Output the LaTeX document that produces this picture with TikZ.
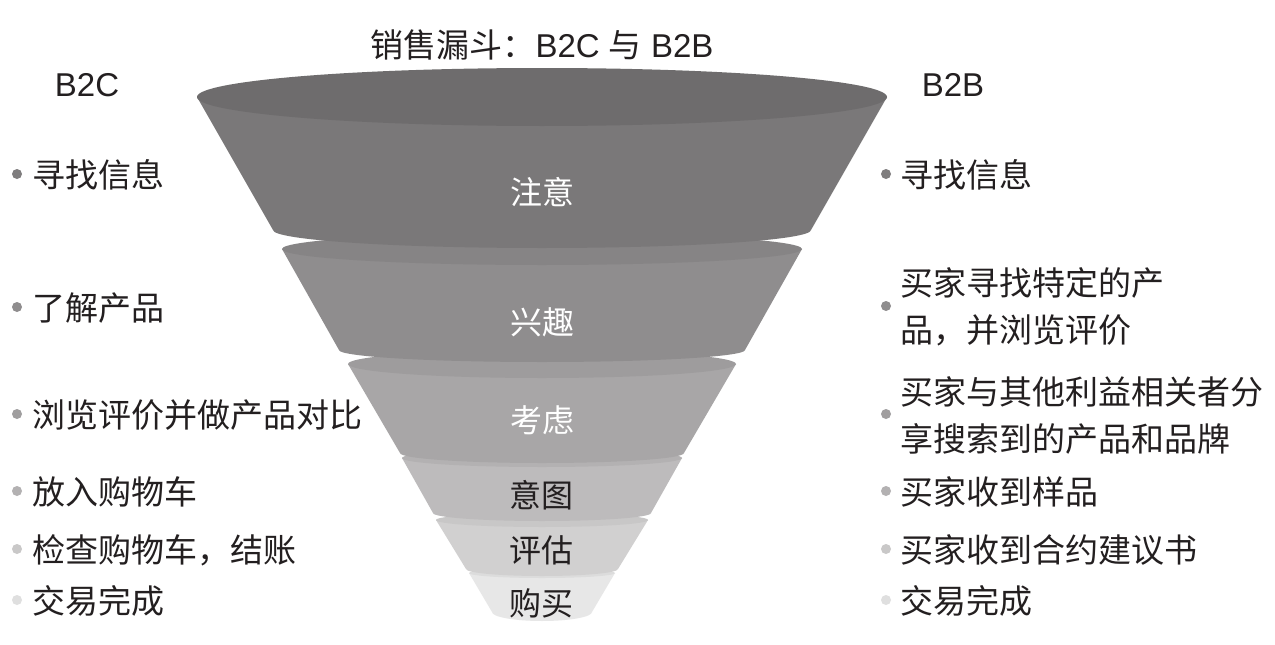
\documentclass[tikz,border=0pt]{standalone}
\usepackage{fontspec}
\setmainfont{Noto Sans CJK SC}
\newfontfamily\latin{Liberation Sans}
\definecolor{eA}{HTML}{6E6C6D}\definecolor{bA}{HTML}{7A7879}
\definecolor{eB}{HTML}{868485}\definecolor{bB}{HTML}{8F8D8E}
\definecolor{eC}{HTML}{9E9C9D}\definecolor{bC}{HTML}{A8A6A7}
\definecolor{eD}{HTML}{B3B1B2}\definecolor{bD}{HTML}{BDBBBC}
\definecolor{eE}{HTML}{C8C7C7}\definecolor{bE}{HTML}{D1D0D0}
\definecolor{eF}{HTML}{DCDCDC}\definecolor{bF}{HTML}{E7E7E7}
\definecolor{dA}{HTML}{7F7D7E}\definecolor{dB}{HTML}{8F8D8E}
\definecolor{dC}{HTML}{A09E9F}\definecolor{dD}{HTML}{B3B1B2}
\definecolor{dE}{HTML}{C9C8C8}\definecolor{dF}{HTML}{DFDFDF}
\definecolor{txt}{HTML}{231F20}
% #1 top y, #2 top rx, #3 top ry, #4 bottom y, #5 bottom rx, #6 bottom depth, #7 body, #8 ellipse
\newcommand\funseg[8]{%
  \fill[#7] (542-#2,#1) -- (542-#5,#4) arc[start angle=180,end angle=0,x radius=#5,y radius=#6] -- (542+#2,#1) -- cycle;
  \fill[#8] (542,#1) ellipse[x radius=#2,y radius=#3];}
\begin{document}
\begin{tikzpicture}[x=1pt,y=-1pt,
  item/.style={anchor=west,inner sep=0pt,text=txt,font=\fontsize{33}{47}\selectfont,align=left},
  lab/.style={inner sep=0pt,font=\fontsize{32}{36}\selectfont},
  bul/.style={circle,inner sep=0pt,minimum size=10pt},
  head/.style={inner sep=0pt,text=txt,font=\fontsize{33}{36}\selectfont\latin}]
\useasboundingbox (0,0) rectangle (1275,645);
\fill[white] (0,0) rectangle (1275,645);
% funnel, drawn from bottom to top
\funseg{573}{73}{5}{612}{50}{9}{bF}{eF}
\funseg{520}{106}{7}{569}{76}{7}{bE}{eE}
\funseg{458}{140}{9}{513}{109}{8}{bD}{eD}
\funseg{364}{194}{14}{453}{142}{10}{bC}{eC}
\funseg{249}{260}{16}{350}{203}{12}{bB}{eB}
\funseg{97}{345}{29}{230}{269}{18}{bA}{eA}
% funnel labels
\node[lab,white] (s1) at (542,192) {注意};
\node[lab,white] (s2) at (542,322) {兴趣};
\node[lab,white] (s3) at (542,420) {考虑};
\node[lab,txt] (s4) at (541,495) {意图};
\node[lab,txt] (s5) at (541,550) {评估};
\node[lab,txt] (s6) at (541,603) {购买};
% titles
\node[head] (title) at (542,45) {{\fontspec{Noto Sans CJK SC}销售漏斗：}B2C {\fontspec{Noto Sans CJK SC}与} B2B};
\node[head] (b2c) at (87,85) {B2C};
\node[head] (b2b) at (953,85) {B2B};
% left column
\node[bul,fill=dA] (lb1) at (17,174) {};
\node[item] (lt1) at (32,175) {寻找信息};
\node[bul,fill=dB] (lb2) at (17,307) {};
\node[item] (lt2) at (32,308) {了解产品};
\node[bul,fill=dC] (lb3) at (17,414) {};
\node[item] (lt3) at (32,415) {浏览评价并做产品对比};
\node[bul,fill=dD] (lb4) at (17,491) {};
\node[item] (lt4) at (32,492) {放入购物车};
\node[bul,fill=dE] (lb5) at (17,549) {};
\node[item] (lt5) at (32,550) {检查购物车，结账};
\node[bul,fill=dF] (lb6) at (17,600) {};
\node[item] (lt6) at (32,601) {交易完成};
% right column
\node[bul,fill=dA] (rb1) at (886,174) {};
\node[item] (rt1) at (900,175) {寻找信息};
\node[bul,fill=dB] (rb2) at (886,306) {};
\node[item] (rt2) at (900,307) {买家寻找特定的产\\品，并浏览评价};
\node[bul,fill=dC] (rb3) at (886,414) {};
\node[item] (rt3) at (900,415) {买家与其他利益相关者分\\享搜索到的产品和品牌};
\node[bul,fill=dD] (rb4) at (886,491) {};
\node[item] (rt4) at (900,492) {买家收到样品};
\node[bul,fill=dE] (rb5) at (886,549) {};
\node[item] (rt5) at (900,550) {买家收到合约建议书};
\node[bul,fill=dF] (rb6) at (886,600) {};
\node[item] (rt6) at (900,601) {交易完成};
\end{tikzpicture}
\end{document}
